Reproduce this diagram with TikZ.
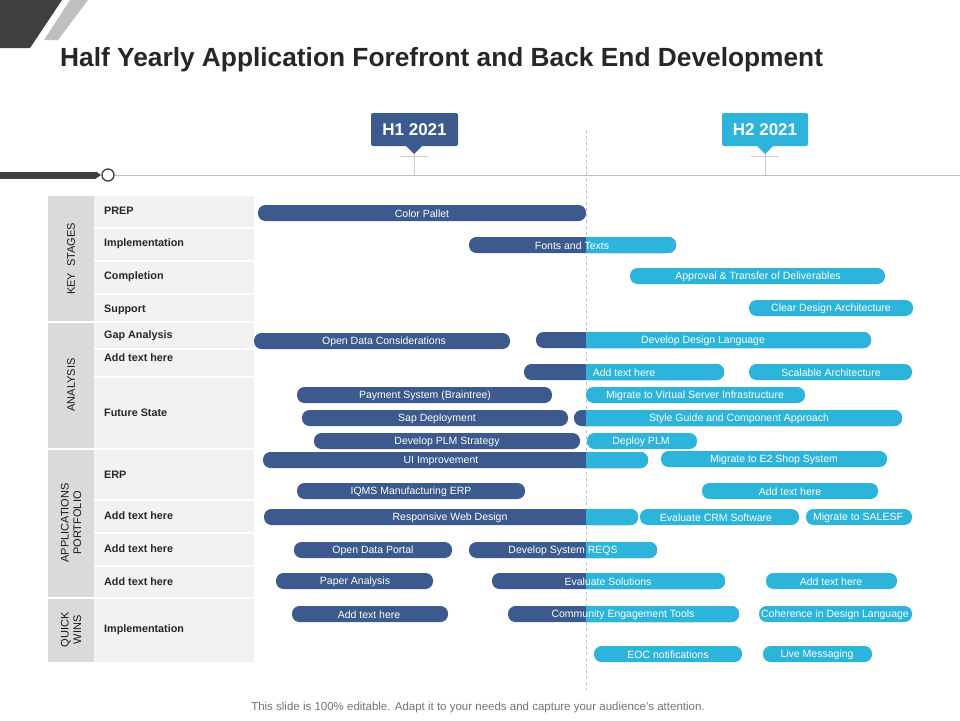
\documentclass[tikz,border=0pt]{standalone}
\usepackage{fontspec}
\setmainfont{Liberation Sans}
\begin{document}
\begin{tikzpicture}[x=1pt,y=1pt,
  bartext/.style={text=white,font=\fontsize{10.5}{12}\selectfont,inner sep=0pt,yshift=-1pt},
  rowlab/.style={anchor=west,font=\bfseries\fontsize{10.8}{12}\selectfont,text=black!85,inner sep=0pt},
  grplab/.style={rotate=90,font=\fontsize{11}{12.5}\selectfont,text=black!90,align=center,inner sep=0pt}]
\definecolor{dk}{HTML}{3C5A8D}
\definecolor{lt}{HTML}{2CB4DA}
\definecolor{cellg}{HTML}{F2F2F2}
\definecolor{grpg}{HTML}{DADADA}
\useasboundingbox (0,0) rectangle (960,-720);
\newcommand\dbar[6]{\fill[dk,rounded corners=7.5pt] (#2,-#4+8) rectangle (#3,-#4-8); \node[bartext] (#1) at (#5,-#4) {#6};}
\newcommand\lbar[6]{\fill[lt,rounded corners=7.5pt] (#2,-#4+8) rectangle (#3,-#4-8); \node[bartext] (#1) at (#5,-#4) {#6};}
\newcommand\sbar[6]{\fill[dk,rounded corners=7.5pt] (#2,-#4+8) rectangle (#3,-#4-8);
  \begin{scope}\clip (586,-#4+9) rectangle (#3+1,-#4-9); \fill[lt,rounded corners=7.5pt] (#2,-#4+8) rectangle (#3,-#4-8);\end{scope}
  \node[bartext] (#1) at (#5,-#4) {#6};}
% corner decoration
\fill[black!75] (0,0) -- (62,0) -- (30,-48) -- (0,-48) -- cycle;
\fill[black!25] (70,0) -- (88,0) -- (58,-40) -- (44,-40) -- cycle;
\node[anchor=west,font=\bfseries\fontsize{26.3}{30}\selectfont,text=black!85,inner sep=0pt] (title) at (60,-60) {Half Yearly Application Forefront and Back End Development};
% timeline
\draw[black!25,line width=0.8pt] (115,-175) -- (960,-175);
\fill[black!75] (0,-171.5) rectangle (96,-178.5);
\fill[black!75] (96,-171.5) -- (101,-175) -- (96,-178.5) -- cycle;
\draw[black!75,line width=1.3pt,fill=white] (108,-175) circle (6);
\draw[black!25,dashed] (586,-130) -- (586,-690);
% callouts
\draw[black!20] (414,-150) -- (414,-175) (400,-156) -- (428,-156);
\draw[black!20] (765,-150) -- (765,-175) (751,-156) -- (779,-156);
\fill[dk,rounded corners=2pt] (371,-113) rectangle (458,-146);
\fill[dk] (406,-146) -- (414,-154) -- (422,-146) -- cycle;
\node[font=\bfseries\fontsize{17}{20}\selectfont,text=white] (h1) at (414.5,-129.5) {H1 2021};
\fill[lt,rounded corners=2pt] (722,-113) rectangle (808,-146);
\fill[lt] (757,-146) -- (765,-154) -- (773,-146) -- cycle;
\node[font=\bfseries\fontsize{17}{20}\selectfont,text=white] (h2) at (765,-129.5) {H2 2021};
% table
\fill[grpg] (48,-196) rectangle (94,-662);
\fill[cellg] (94,-196) rectangle (254,-662);
\foreach \y in {228,261,294,322,349,377,449,500,533,566,598} \draw[white,line width=1.5pt] (94,-\y) -- (254,-\y);
\foreach \y in {322,449,598} \draw[white,line width=2pt] (48,-\y) -- (94,-\y);
\node[grplab] (g1) at (71,-259) {KEY\ \ STAGES};
\node[grplab] (g2) at (71,-385) {ANALYSIS};
\node[grplab] (g3) at (71,-523) {APPLICATIONS\\PORTFOLIO};
\node[grplab] (g4) at (71,-630) {QUICK\\WINS};
\node[rowlab] (r1) at (104,-211) {PREP};
\node[rowlab] (r2) at (104,-244) {Implementation};
\node[rowlab] (r3) at (104,-277) {Completion};
\node[rowlab] (r4) at (104,-310) {Support};
\node[rowlab] (r5) at (104,-336) {Gap Analysis};
\node[rowlab] (r6) at (104,-358) {Add text here};
\node[rowlab] (r7) at (104,-413) {Future State};
\node[rowlab] (r8) at (104,-475) {ERP};
\node[rowlab] (r9) at (104,-516) {Add text here};
\node[rowlab] (r10) at (104,-549) {Add text here};
\node[rowlab] (r11) at (104,-582) {Add text here};
\node[rowlab] (r12) at (104,-630) {Implementation};
% bars
\dbar{b1}{258}{586}{213}{422}{Color Pallet}
\sbar{b2}{469}{676}{245}{572}{Fonts and Texts}
\lbar{b3}{630}{885}{276}{758}{Approval \& Transfer of Deliverables}
\lbar{b4}{749}{913}{308}{831}{Clear Design Architecture}
\dbar{b5}{254}{510}{341}{384}{Open Data Considerations}
\sbar{b6}{536}{871}{340}{703}{Develop Design Language}
\sbar{b7}{524}{724}{372}{624}{Add text here}
\lbar{b8}{749}{912}{372}{831}{Scalable Architecture}
\dbar{b9}{297}{552}{395}{425}{Payment System (Braintree)}
\lbar{b10}{586}{805}{395}{695}{Migrate to Virtual Server Infrastructure}
\dbar{b11}{302}{568}{418}{437}{Sap Deployment}
\sbar{b12}{574}{902}{418}{739}{Style Guide and Component  Approach}
\dbar{b13}{314}{580}{441}{447}{Develop PLM Strategy}
\lbar{b14}{587}{697}{441}{641}{Deploy PLM}
\sbar{b15}{263}{648}{460}{441}{UI Improvement}
\lbar{b16}{661}{887}{459}{774}{Migrate to E2 Shop System}
\dbar{b17}{297}{525}{491}{411}{IQMS  Manufacturing ERP}
\lbar{b18}{702}{878}{491}{790}{Add text here}
\sbar{b19}{264}{638}{517}{450}{Responsive Web Design}
\lbar{b20}{640}{799}{517}{716}{Evaluate  CRM  Software}
\lbar{b21}{806}{912}{517}{858}{Migrate to  SALESF}
\dbar{b22}{294}{452}{550}{373}{Open Data Portal}
\sbar{b23}{469}{657}{550}{563}{Develop System REQS}
\dbar{b24}{276}{433}{581}{355}{Paper Analysis}
\sbar{b25}{492}{725}{581}{608}{Evaluate Solutions}
\lbar{b26}{766}{897}{581}{831}{Add text here}
\dbar{b27}{292}{448}{614}{369}{Add text here}
\sbar{b28}{508}{739}{614}{623}{Community  Engagement  Tools}
\lbar{b29}{759}{912}{614}{835}{Coherence in Design Language}
\lbar{b30}{594}{742}{654}{668}{EOC  notifications}
\lbar{b31}{763}{872}{654}{817}{Live Messaging}
\node[font=\fontsize{11.5}{13}\selectfont,text=black!55] (foot) at (478,-708) {This slide is 100\% editable. Adapt it to your needs and capture your audience's attention.};
\end{tikzpicture}
\end{document}
